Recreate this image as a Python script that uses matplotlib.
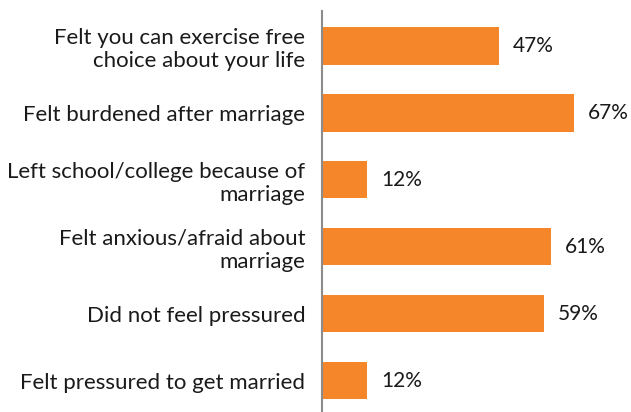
import matplotlib
matplotlib.use("Agg")
import matplotlib.pyplot as plt

# bottom to top
labels = ["Felt pressured to get married",
          "Did not feel pressured",
          "Felt anxious/afraid about\nmarriage",
          "Left school/college because of\nmarriage",
          "Felt burdened after marriage",
          "Felt you can exercise free\nchoice about your life"]
values = [12, 59, 61, 12, 67, 47]

plt.rcParams['font.family'] = ['Lato', 'DejaVu Sans']

fig = plt.figure(figsize=(6.31, 4.12), dpi=100)
ax = fig.add_axes([322 / 631, 0, 1 - 322 / 631, 1 - 11 / 412])

ys = list(range(len(values)))
ax.barh(ys, values, height=0.56, color="#F5862A")
for y, v in zip(ys, values):
    ax.text(v + 3.7, y, f"{v}%", va="center", ha="left", fontsize=15, color="#1a1a1a")

ax.set_xlim(0, (631 - 322) / 3.76)
ax.set_ylim(-0.47, 5.52)
ax.set_yticks(ys)
ax.set_yticklabels(labels, fontsize=16, color="#1a1a1a", linespacing=1.2)
ax.tick_params(axis="y", length=0, pad=12)
ax.set_xticks([])
for s in ["top", "right", "bottom"]:
    ax.spines[s].set_visible(False)
ax.spines["left"].set_color("#8c8c8c")
ax.spines["left"].set_linewidth(1.5)

fig.savefig("out.png", dpi=100)
